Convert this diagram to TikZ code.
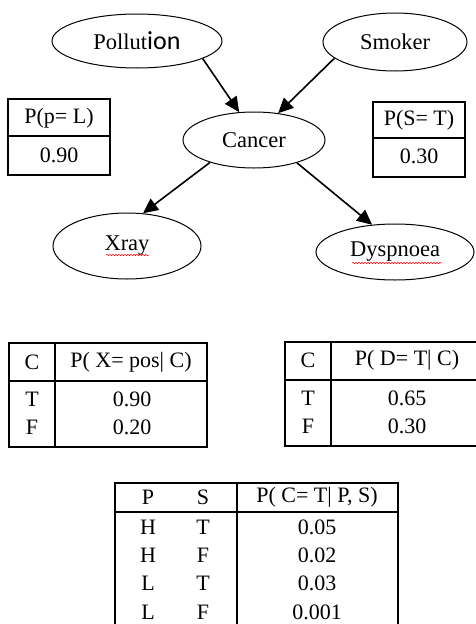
\documentclass[tikz,border=0pt]{standalone}
\usepackage{fontspec}
\setmainfont{Liberation Serif}
\newfontfamily\carl{Carlito}
\usetikzlibrary{shapes.geometric,arrows.meta,decorations.pathmorphing}
\begin{document}
\begin{tikzpicture}[x=1pt,y=-1pt,
  ell/.style={draw, ellipse, line width=1pt, inner sep=0pt, font=\fontsize{22.5}{26}\selectfont},
  arr/.style={line width=1.6pt, -{Triangle[length=15pt,width=14pt]}},
  tab/.style={line width=1.2pt},
  txt/.style={font=\fontsize{22}{25}\selectfont, inner sep=0pt},
  squig/.style={red, line width=0.5pt, decorate, decoration={snake, amplitude=0.7pt, segment length=3pt}}]
\useasboundingbox (0,0) rectangle (475,624);

% network nodes
\node[ell, minimum width=170, minimum height=54] (pol) at (137,41) {Pollut{\carl\fontsize{26}{28}\selectfont ion}};
\node[ell, minimum width=144, minimum height=58] (smk) at (395,42) {Smoker};
\node[ell, minimum width=142, minimum height=56] (can) at (254,140) {Cancer};
\node[ell, minimum width=148, minimum height=66] (xr) at (127,246) {Xray};
\node[ell, minimum width=158, minimum height=56] (dys) at (395,252) {Dyspnoea};
\draw[squig] (106,255) -- (149,255);
\draw[squig] (352,263) -- (442,263);

% arrows
\draw[arr] (pol.-15) -- (can.118);
\draw[arr] (smk.195) -- (can.48);
\draw[arr] (can.207) -- (xr.64);
\draw[arr] (can.-28) -- (dys.130);

% P(p=L)
\draw[tab] (8,99) rectangle (110,175);
\draw[tab] (8,136) -- (110,136);
\node[txt] (pl1) at (59,118) {P(p= L)};
\node[txt] (pl2) at (59,155) {0.90};

% P(S=T)
\draw[tab] (373,102) rectangle (465,177);
\draw[tab] (373,138) -- (465,138);
\node[txt] (ps1) at (419,120) {P(S= T)};
\node[txt] (ps2) at (419,156) {0.30};

% Xray table
\draw[tab] (9,343) rectangle (207,447);
\draw[tab] (55,343) -- (55,447);
\draw[tab] (9,381) -- (207,381);
\node[txt] (xh1) at (32,362) {C};
\node[txt] (xh2) at (131,362) {P( X= pos| C)};
\node[txt] (xa1) at (32,399) {T};
\node[txt] (xa2) at (132,399) {0.90};
\node[txt] (xb1) at (32,427) {F};
\node[txt] (xb2) at (132,427) {0.20};

% Dyspnoea table
\draw[tab] (476,342) -- (285,342) -- (285,446) -- (476,446);
\draw[tab] (331,342) -- (331,446);
\draw[tab] (285,380) -- (476,380);
\node[txt] (dh1) at (308,360) {C};
\node[txt] (dh2) at (407,360) {P( D= T| C)};
\node[txt] (da1) at (308,398) {T};
\node[txt] (da2) at (407,398) {0.65};
\node[txt] (db1) at (308,426) {F};
\node[txt] (db2) at (407,426) {0.30};

% Cancer table
\draw[tab] (115,626) -- (115,483) -- (398,483) -- (398,626);
\draw[tab] (237,483) -- (237,626);
\draw[tab] (115,512) -- (398,512);
\node[txt] (ch1) at (148,497) {P};
\node[txt] (ch2) at (203,497) {S};
\node[txt] (ch3) at (317,497) {P( C= T| P, S)};
\node[txt] (c11) at (148,527) {H};
\node[txt] (c12) at (203,527) {T};
\node[txt] (c13) at (317,527) {0.05};
\node[txt] (c21) at (148,555) {H};
\node[txt] (c22) at (203,555) {F};
\node[txt] (c23) at (317,555) {0.02};
\node[txt] (c31) at (148,583) {L};
\node[txt] (c32) at (203,583) {T};
\node[txt] (c33) at (317,583) {0.03};
\node[txt] (c41) at (148,612) {L};
\node[txt] (c42) at (203,612) {F};
\node[txt] (c43) at (317,612) {0.001};
\end{tikzpicture}
\end{document}
